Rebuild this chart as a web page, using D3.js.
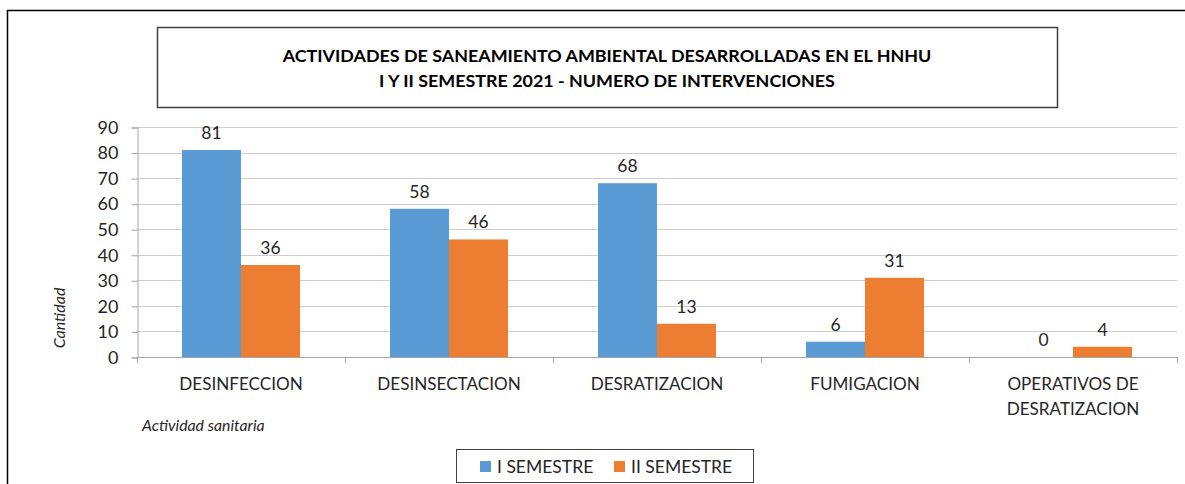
<!DOCTYPE html>
<html>
<head>
<meta charset="utf-8">
<script src="https://cdn.jsdelivr.net/npm/d3@7"></script>
<style>
  html, body { margin: 0; padding: 0; background: #fff; }
  svg { display: block; }
  text { font-family: Lato, "Open Sans", sans-serif; fill: #262626; }
</style>
</head>
<body>
<svg id="chart" width="1185" height="484"></svg>
<script>
// Activities and intervention counts per semester
const categories = [
  ["DESINFECCION"],
  ["DESINSECTACION"],
  ["DESRATIZACION"],
  ["FUMIGACION"],
  ["OPERATIVOS DE", "DESRATIZACION"]
];
const seriesNames = ["I SEMESTRE", "II SEMESTRE"];
const semester1 = [81, 58, 68, 6, 0];
const semester2 = [36, 46, 13, 31, 4];
const yTicks = [0, 10, 20, 30, 40, 50, 60, 70, 80, 90];
const titleLines = [
  "ACTIVIDADES DE SANEAMIENTO AMBIENTAL DESARROLLADAS EN EL HNHU",
  "I Y II SEMESTRE 2021 - NUMERO DE INTERVENCIONES"
];
const colors = ["#5B9BD5", "#ED7D31"];

const svg = d3.select("#chart");
const W = 1185, H = 484;

// outer chart frame (left and top edges visible)
svg.append("path")
  .attr("d", `M7.5,${H} V10.5 H${W}`)
  .attr("fill", "none").attr("stroke", "#000").attr("stroke-width", 1.5);

// title box
svg.append("rect")
  .attr("x", 157.5).attr("y", 27.5).attr("width", 900).attr("height", 80)
  .attr("fill", "#fff").attr("stroke", "#404040").attr("stroke-width", 1.5);
const title = svg.append("text")
  .attr("text-anchor", "middle").attr("font-weight", "bold")
  .attr("font-size", 17.9).style("fill", "#000");
title.selectAll("tspan").data(titleLines).join("tspan")
  .attr("x", 607).attr("y", (d, i) => 62 + i * 25)
  .text(d => d);

// plot area
const plot = { left: 137, right: 1177, top: 127, bottom: 357 };
const x0 = d3.scaleBand()
  .domain(d3.range(categories.length))
  .range([plot.left, plot.right])
  .paddingInner(0).paddingOuter(0);
const x1 = d3.scaleBand()
  .domain([0, 1])
  .range([0, x0.bandwidth()])
  .paddingInner(0)
  .paddingOuter(45 / 59);
const y = d3.scaleLinear().domain([0, 90]).range([plot.bottom, plot.top]);

// horizontal gridlines
svg.append("g").selectAll("line").data(yTicks.filter(t => t > 0)).join("line")
  .attr("x1", plot.left).attr("x2", plot.right)
  .attr("y1", d => Math.round(y(d)) + 0.5).attr("y2", d => Math.round(y(d)) + 0.5)
  .attr("stroke", "#CDCDCD").attr("stroke-width", 1);

// y axis
const yAxis = svg.append("g")
  .attr("transform", `translate(${plot.left + 0.5},0.5)`)
  .call(d3.axisLeft(y).tickValues(yTicks).tickSize(6).tickPadding(13).tickFormat(d3.format("d")));
yAxis.select(".domain").attr("stroke", "#A6A6A6");
yAxis.selectAll(".tick line").attr("stroke", "#A6A6A6");
yAxis.selectAll(".tick text").attr("font-size", 18).attr("font-family", "Lato, sans-serif").style("fill", "#262626");

// x axis baseline and category separators
const xAxisG = svg.append("g");
xAxisG.append("line")
  .attr("x1", plot.left).attr("x2", plot.right)
  .attr("y1", plot.bottom + 0.5).attr("y2", plot.bottom + 0.5)
  .attr("stroke", "#A6A6A6");
const bounds = d3.range(categories.length + 1).map(i => i < categories.length ? x0(i) : x0(i - 1) + x0.bandwidth());
xAxisG.selectAll("line.sep").data(bounds).join("line").attr("class", "sep")
  .attr("x1", d => Math.round(d) + 0.5).attr("x2", d => Math.round(d) + 0.5)
  .attr("y1", plot.bottom).attr("y2", plot.bottom + 6)
  .attr("stroke", "#A6A6A6");

// category labels
const catLabels = svg.append("g").selectAll("text").data(categories).join("text")
  .attr("text-anchor", "middle").attr("font-size", 17.1);
catLabels.each(function (lines, i) {
  d3.select(this).selectAll("tspan").data(lines).join("tspan")
    .attr("x", x0(i) + x0.bandwidth() / 2)
    .attr("y", (d, j) => 390 + j * 25)
    .text(d => d);
});

// bars
const rows = categories.map((c, i) => ({ i, vals: [semester1[i], semester2[i]] }));
const groups = svg.append("g").selectAll("g").data(rows).join("g")
  .attr("transform", d => `translate(${x0(d.i)},0)`);
groups.selectAll("rect").data(d => d.vals.map((v, s) => ({ v, s }))).join("rect")
  .attr("x", d => x1(d.s))
  .attr("width", x1.bandwidth())
  .attr("y", d => y(d.v))
  .attr("height", d => y(0) - y(d.v))
  .attr("fill", d => colors[d.s]);

// value labels
groups.selectAll("text").data(d => d.vals.map((v, s) => ({ v, s }))).join("text")
  .attr("text-anchor", "middle").attr("font-size", 17.5)
  .attr("x", d => x1(d.s) + x1.bandwidth() / 2)
  .attr("y", d => y(d.v) - 11)
  .text(d => d.v);

// axis titles
svg.append("text")
  .attr("transform", "translate(65,318) rotate(-90)")
  .attr("text-anchor", "middle").attr("font-style", "italic").attr("font-size", 16)
  .text("Cantidad");
svg.append("text")
  .attr("x", 142).attr("y", 431)
  .attr("font-style", "italic").attr("font-size", 15.8)
  .text("Actividad sanitaria");

// legend
const legend = svg.append("g");
legend.append("rect")
  .attr("x", 456.5).attr("y", 449.5).attr("width", 297).attr("height", 33)
  .attr("fill", "#fff").attr("stroke", "#404040").attr("stroke-width", 1);
const legendX = [480, 614];
const items = legend.selectAll("g.item").data(seriesNames).join("g").attr("class", "item")
  .attr("transform", (d, i) => `translate(${legendX[i]},0)`);
items.append("rect").attr("x", 0).attr("y", 461).attr("width", 11).attr("height", 11)
  .attr("fill", (d, i) => colors[i]);
items.append("text").attr("x", 17).attr("y", 472.5).attr("font-size", 17.5).text(d => d);
</script>
</body>
</html>
